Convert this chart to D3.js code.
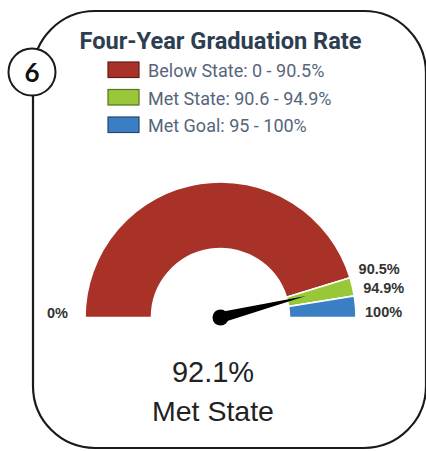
<!DOCTYPE html>
<html>
<head>
<meta charset="utf-8">
<script src="https://cdn.jsdelivr.net/npm/d3@7"></script>
<style>
  html, body { margin: 0; padding: 0; background: #fff; }
  svg { display: block; }
</style>
</head>
<body>
<svg id="chart" width="426" height="451"></svg>
<script>
// Gauge bands: [start, end] in percent
const bandNames = ["Below State", "Met State", "Met Goal"];
const bandRanges = [[0, 90.5], [90.5, 94.9], [94.9, 100]];
const bandColors = ["#a83228", "#98c83a", "#3a7fc3"];
const legendLabels = ["Below State: 0 - 90.5%", "Met State: 90.6 - 94.9%", "Met Goal: 95 - 100%"];
const tickValues = [0, 90.5, 94.9, 100];
const tickLabels = ["0%", "90.5%", "94.9%", "100%"];
const currentValue = 92.1;
const currentStatus = "Met State";
const title = "Four-Year Graduation Rate";
const cardNumber = "6";

const svg = d3.select("#chart");

// Card outline (runs past the right edge)
svg.append("rect")
  .attr("x", 33).attr("y", 11)
  .attr("width", 393).attr("height", 437)
  .attr("rx", 62).attr("ry", 62)
  .attr("fill", "#fff")
  .attr("stroke", "#1a1a1a")
  .attr("stroke-width", 2.2);

// Numbered badge
svg.append("circle")
  .attr("cx", 32).attr("cy", 72).attr("r", 23.5)
  .attr("fill", "#fff").attr("stroke", "#1a1a1a").attr("stroke-width", 2);
svg.append("text")
  .attr("x", 32).attr("y", 81.5)
  .attr("text-anchor", "middle")
  .attr("font-family", "Lato, 'Open Sans', sans-serif")
  .attr("font-weight", 700)
  .attr("font-size", 26)
  .attr("fill", "#111")
  .text(cardNumber);

// Title
svg.append("text")
  .attr("x", 220.5).attr("y", 48.5)
  .attr("text-anchor", "middle")
  .attr("font-family", "Roboto, sans-serif")
  .attr("font-weight", 700)
  .attr("font-size", 23.6)
  .attr("fill", "#2c3e50")
  .text(title);

// Legend
const legend = svg.append("g").attr("transform", "translate(108,62)");
const rows = legend.selectAll("g").data(bandNames).join("g")
  .attr("transform", (d, i) => `translate(0,${i * 27.5})`);
rows.append("rect")
  .attr("width", 31).attr("height", 15.5)
  .attr("fill", (d, i) => bandColors[i])
  .attr("stroke", (d, i) => d3.color(bandColors[i]).darker(1.6))
  .attr("stroke-width", 1.2);
rows.append("text")
  .attr("x", 40).attr("y", 15)
  .attr("font-family", "Roboto, sans-serif")
  .attr("font-size", 18)
  .attr("fill", "#56657a")
  .text((d, i) => legendLabels[i]);

// Gauge
const cx = 220.5, cy = 317.5, rOuter = 135.5, rInner = 69;
const angle = d3.scaleLinear().domain([0, 100]).range([-Math.PI / 2, Math.PI / 2]);
const arc = d3.arc().innerRadius(rInner).outerRadius(rOuter);

const gauge = svg.append("g").attr("transform", `translate(${cx},${cy})`);
gauge.selectAll("path.band").data(bandRanges).join("path")
  .attr("class", "band")
  .attr("d", d => arc({ startAngle: angle(d[0]), endAngle: angle(d[1]) }))
  .attr("fill", (d, i) => bandColors[i])
  .attr("stroke", "#fff")
  .attr("stroke-width", 1.6);

// Tick labels around the gauge
const polar = (v, r) => {
  const a = angle(v);
  return [r * Math.sin(a), -r * Math.cos(a)];
};
gauge.selectAll("text.tick").data(tickValues).join("text")
  .attr("class", "tick")
  .attr("x", (d) => d === 0 ? polar(d, rOuter + 17)[0] : polar(d, rOuter + 9)[0])
  .attr("y", (d) => polar(d, rOuter + 9)[1] + (d === 0 ? 0 : -1))
  .attr("text-anchor", d => d === 0 ? "end" : "start")
  .attr("font-family", "'Liberation Sans', Arial, sans-serif")
  .attr("font-weight", 700)
  .attr("font-size", 14.5)
  .attr("fill", "#333")
  .text((d, i) => tickLabels[i]);

// Needle
const needleLen = 88, baseHalf = 5.5;
const a = angle(currentValue);
const tip = [needleLen * Math.sin(a), -needleLen * Math.cos(a)];
const perp = [Math.cos(a), Math.sin(a)];
gauge.append("path")
  .attr("d", d3.line()([
    [perp[0] * baseHalf, perp[1] * baseHalf],
    tip,
    [-perp[0] * baseHalf, -perp[1] * baseHalf]
  ]) + "Z")
  .attr("fill", "#000");
gauge.append("circle").attr("r", 8).attr("fill", "#000");

// Value and status
svg.append("text")
  .attr("x", 213).attr("y", 382)
  .attr("text-anchor", "middle")
  .attr("font-family", "'Liberation Sans', Arial, sans-serif")
  .attr("font-size", 29)
  .attr("fill", "#222")
  .text(currentValue.toFixed(1) + "%");
svg.append("text")
  .attr("x", 213).attr("y", 421)
  .attr("text-anchor", "middle")
  .attr("font-family", "'Liberation Sans', Arial, sans-serif")
  .attr("font-size", 28.5)
  .attr("fill", "#222")
  .text(currentStatus);
</script>
</body>
</html>
